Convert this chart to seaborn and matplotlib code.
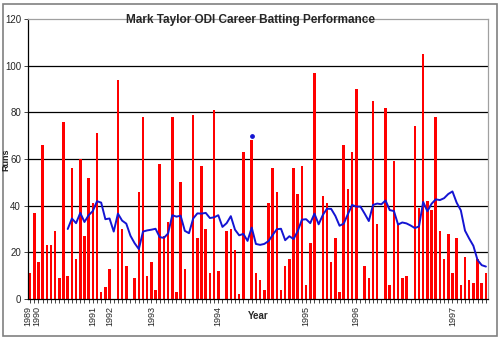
import matplotlib
matplotlib.use("Agg")
import matplotlib.pyplot as plt
from matplotlib.patches import Rectangle
import matplotlib.transforms as mtransforms
import seaborn as sns
import pandas as pd
import numpy as np

# Runs per innings
runs = [11, 37, 16, 66, 23, 23, 29, 9, 76, 10, 56, 17, 60, 27, 52, 41, 71, 3, 5, 13, 0, 94,
        30, 14, 0, 9, 46, 78, 10, 16, 4, 58, 27, 33, 78, 3, 50, 13, 0, 79, 26, 57, 30, 11,
        81, 12, 0, 29, 30, 21, 2, 63, 0, 68, 11, 8, 4, 41, 56, 46, 4, 14, 17, 56, 45, 57,
        6, 24, 97, 0, 44, 41, 16, 26, 3, 66, 47, 63, 90, 0, 14, 9, 85, 32, 0, 82, 6, 59,
        32, 9, 10, 0, 74, 39, 105, 42, 38, 78, 29, 17, 28, 11, 26, 6, 18, 8, 7, 17, 7, 11]

# Year labels at first innings of each year
year_pos = [0, 1, 15, 19, 29, 45, 66, 78, 101]
year_labels = ["1989", "1990", "1991", "1992", "1993", "1994", "1995", "1996", "1997"]

# Single highlighted point
marker_pos = [53]
marker_val = [70]

ma_window = 10

sns.set_style("white")
plt.rcParams['font.family'] = ['Liberation Sans', 'DejaVu Sans']

n = len(runs)
df = pd.DataFrame({"inn": np.arange(n), "runs": runs})
df["ma"] = df["runs"].rolling(ma_window).mean()

fig = plt.figure(figsize=(5.0, 3.39), dpi=100)
ax = fig.add_axes([28/500, 40/339, 460/500, 280/339])

sns.barplot(data=df, x="inn", y="runs", color="#FF0000", saturation=1, width=0.6,
            linewidth=0, ax=ax)
for p in ax.patches:
    p.set_antialiased(False)
sns.lineplot(x=df["inn"], y=df["ma"], color="#1414d2", lw=1.4, ax=ax)
ax.scatter(marker_pos, marker_val, color="#1414d2", s=6, zorder=5)

ax.set_xlim(-0.5, n - 0.5)
ax.set_ylim(0, 120)
ax.set_yticks(range(0, 121, 20))
ax.set_yticklabels([str(v) for v in range(0, 121, 20)], fontsize=7)
for v in range(20, 120, 20):
    ax.axhline(v, color="black", lw=0.9, zorder=0)

ticks = list(range(n))
labels = [""] * n
for p, l in zip(year_pos, year_labels):
    labels[p] = l
ax.set_xticks(ticks)
ax.set_xticklabels(labels, rotation=90, fontsize=6.5)
ax.tick_params(axis="x", length=3, width=0.6, direction="out", pad=2, bottom=True)
ax.tick_params(axis="y", length=3, width=0.6, direction="out", pad=2, left=True)
ax.set_xlabel("")
ax.set_ylabel("")

# nudge the two crowded first labels apart
tl = ax.get_xticklabels()
tl[0].set_transform(tl[0].get_transform() + mtransforms.ScaledTranslation(-2/100, 0, fig.dpi_scale_trans))
tl[1].set_transform(tl[1].get_transform() + mtransforms.ScaledTranslation(3/100, 0, fig.dpi_scale_trans))

ax.spines["left"].set_color("black")
ax.spines["bottom"].set_color("black")
ax.spines["top"].set_color("#a0a0a0")
ax.spines["right"].set_color("#a0a0a0")
for s in ax.spines.values():
    s.set_linewidth(0.9)

fig.text(250/500, 1 - 20/339, "Mark Taylor ODI Career Batting Performance",
         ha="center", va="center", fontsize=8.5, fontweight="bold")
fig.text(6/500, 1 - 160/339, "Runs", rotation=90, ha="center", va="center",
         fontsize=6.5, fontweight="bold")
fig.text(258/500, 1 - 316/339, "Year", ha="center", va="center",
         fontsize=7, fontweight="bold")

fig.patches.append(Rectangle((3/500, 3/339), 494/500, 332/339, transform=fig.transFigure,
                             fill=False, edgecolor="#808080", lw=1.2))

fig.savefig("out.png", dpi=100)
